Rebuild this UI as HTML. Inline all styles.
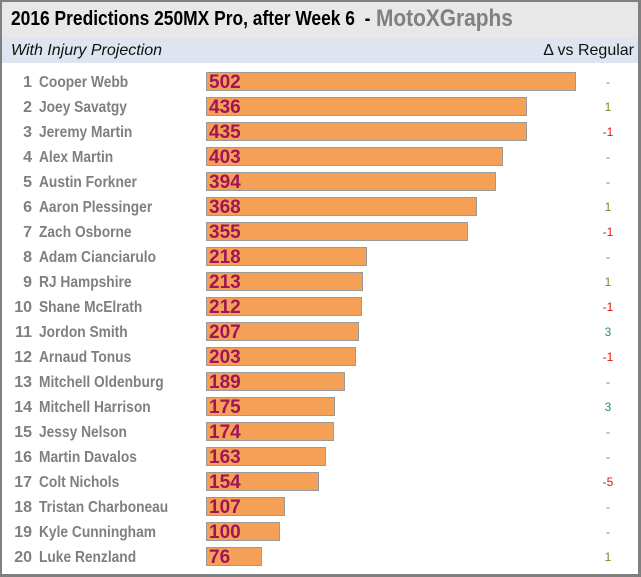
<!DOCTYPE html>
<html><head><style>
*{margin:0;padding:0;box-sizing:border-box}
body{width:641px;height:577px;background:#fff;position:relative;overflow:hidden;font-family:"Liberation Sans",sans-serif}
.frame{position:absolute;left:0;top:0;width:641px;height:577px;border:2px solid #808080;border-right-width:3px;border-bottom-width:3px}
.hdr{position:absolute;left:2px;top:2px;width:636px;height:36px;background:#e8e8e8}
.sub{position:absolute;left:2px;top:38px;width:636px;height:25px;background:#dfe5f0}
.t{position:absolute;white-space:nowrap}
.row{position:absolute;left:0;height:25px;width:641px}
.rk{position:absolute;right:609px;top:5px;font-size:16px;font-weight:bold;color:#7f7f7f}
.nm{position:absolute;left:39px;top:5px;font-size:16px;font-weight:bold;color:#7f7f7f;transform:scaleX(0.86);transform-origin:left}
.bar{position:absolute;left:206px;top:3px;height:19px;background:#f5a057;border:1px solid #9a9a9a}
.v{position:absolute;left:209px;top:3px;font-size:19px;font-weight:bold;color:#a01458}
.d{position:absolute;left:590px;width:36px;text-align:center;top:6px;font-size:12px}
</style></head><body>
<div class="hdr"></div><div class="sub"></div>
<div class="t" style="left:11px;top:8px;font-size:20px;font-weight:bold;color:#000;transform:scaleX(0.87);transform-origin:left">2016 Predictions 250MX Pro, after Week 6&nbsp; -</div>
<div class="t" style="left:376px;top:5px;font-size:24px;font-weight:bold;color:#808080;transform:scaleX(0.87);transform-origin:left">MotoXGraphs</div>
<div class="t" style="left:11px;top:42px;font-size:16px;font-style:italic;color:#111">With Injury Projection</div>
<div class="t" style="left:442px;top:42px;width:192px;text-align:right;font-size:16px;color:#111">Δ vs Regular</div>
<div id="rows"></div>
<div class="frame"></div>
<script>
var d=[["Cooper Webb",502,"-"],["Joey Savatgy",436,"1"],["Jeremy Martin",435,"-1"],["Alex Martin",403,"-"],["Austin Forkner",394,"-"],["Aaron Plessinger",368,"1"],["Zach Osborne",355,"-1"],["Adam Cianciarulo",218,"-"],["RJ Hampshire",213,"1"],["Shane McElrath",212,"-1"],["Jordon Smith",207,"3"],["Arnaud Tonus",203,"-1"],["Mitchell Oldenburg",189,"-"],["Mitchell Harrison",175,"3"],["Jessy Nelson",174,"-"],["Martin Davalos",163,"-"],["Colt Nichols",154,"-5"],["Tristan Charboneau",107,"-"],["Kyle Cunningham",100,"-"],["Luke Renzland",76,"1"]];
var h="";
d.forEach(function(r,i){
var y=69+i*25,w=Math.round(r[1]*0.737);
var c=r[2].charAt(0)=="-"&&r[2].length>1?"#e81010":(r[2]=="3"?"#2e8b7a":"#6b8e23");
h+='<div class="row" style="top:'+y+'px"><div class="rk">'+(i+1)+'</div><div class="nm">'+r[0]+'</div><div class="bar" style="width:'+w+'px"></div><div class="v">'+r[1]+'</div><div class="d" style="color:'+c+'">'+r[2]+'</div></div>';
});
document.getElementById("rows").innerHTML=h;
</script>
</body></html>
